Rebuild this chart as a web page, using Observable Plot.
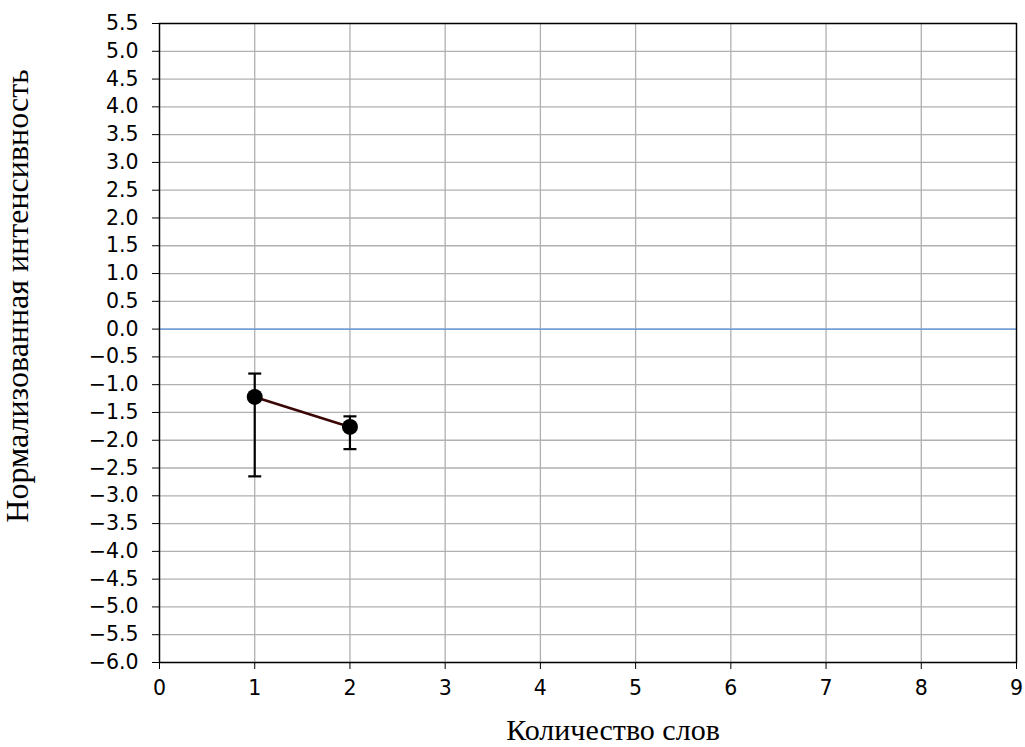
<!DOCTYPE html>
<html>
<head>
<meta charset="utf-8">
<script src="https://cdn.jsdelivr.net/npm/d3@7"></script>
<script src="https://cdn.jsdelivr.net/npm/@observablehq/plot@0.6"></script>
<style>
  html, body { margin: 0; padding: 0; background: #fff; }
  #chart svg { display: block; }
</style>
</head>
<body>
<div id="chart"></div>
<script>
// Word count vs. normalized intensity, with asymmetric error bars
const wordCounts = [1, 2];
const meanIntensity = [-1.22, -1.76];
const errLow = [-2.65, -2.16];
const errHigh = [-0.80, -1.57];

const xTicks = [0, 1, 2, 3, 4, 5, 6, 7, 8, 9];
const yTicks = [-6.0, -5.5, -5.0, -4.5, -4.0, -3.5, -3.0, -2.5, -2.0, -1.5, -1.0, -0.5,
                0.0, 0.5, 1.0, 1.5, 2.0, 2.5, 3.0, 3.5, 4.0, 4.5, 5.0, 5.5];

const xLabel = "Количество слов";
const yLabel = "Нормализованная интенсивность";

const rows = wordCounts.map((x, i) => ({x, y: meanIntensity[i], lo: errLow[i], hi: errHigh[i]}));

// horizontal cap symbol for error bars
const capSymbol = {
  draw(context, size) {
    const w = Math.sqrt(size / Math.PI);
    context.moveTo(-w, 0);
    context.lineTo(w, 0);
  }
};

const fmt = d => d.toFixed(1).replace("-", "\u2212");

const chart = Plot.plot({
  width: 1025,
  height: 747,
  marginLeft: 159,
  marginRight: 9,
  marginTop: 23,
  marginBottom: 85,
  style: {fontFamily: "DejaVu Sans", fontSize: "20.5px", color: "black", background: "white", overflow: "visible"},
  x: {domain: [0, 9], label: null},
  y: {domain: [-6, 5.5], label: null},
  marks: [
    Plot.gridX(xTicks, {stroke: "#b0b0b0", strokeOpacity: 1, strokeWidth: 1.3}),
    Plot.gridY(yTicks, {stroke: "#b0b0b0", strokeOpacity: 1, strokeWidth: 1.3}),
    Plot.ruleY([0], {stroke: "#5a95e0", strokeWidth: 1.3}),
    Plot.line(rows, {x: "x", y: "y", stroke: "#3a0606", strokeWidth: 2.6}),
    Plot.ruleX(rows, {x: "x", y1: "lo", y2: "hi", stroke: "black", strokeWidth: 2.2}),
    Plot.dot(rows, {x: "x", y: "lo", symbol: capSymbol, r: 6.5, stroke: "black", strokeWidth: 2.2}),
    Plot.dot(rows, {x: "x", y: "hi", symbol: capSymbol, r: 6.5, stroke: "black", strokeWidth: 2.2}),
    Plot.dot(rows, {x: "x", y: "y", r: 8, fill: "black", stroke: "none"}),
    Plot.axisX({ticks: xTicks, tickFormat: d => String(d), tickSize: 7, tickPadding: 11, label: null, fontSize: 20.5}),
    Plot.axisY({ticks: yTicks, tickFormat: fmt, tickSize: 7, tickPadding: 14, label: null, fontSize: 20.5}),
    Plot.frame({stroke: "black", strokeWidth: 1.4}),
    Plot.text([xLabel], {frameAnchor: "bottom", dx: 25, dy: 77, fontFamily: "Liberation Serif", fontSize: 30, fill: "black", lineAnchor: "bottom"}),
    Plot.text([yLabel], {frameAnchor: "left", dx: -132, dy: -47, rotate: -90, fontFamily: "Liberation Serif", fontSize: 32, fill: "black", textAnchor: "middle", lineAnchor: "bottom"})
  ]
});

document.getElementById("chart").appendChild(chart);
</script>
</body>
</html>
